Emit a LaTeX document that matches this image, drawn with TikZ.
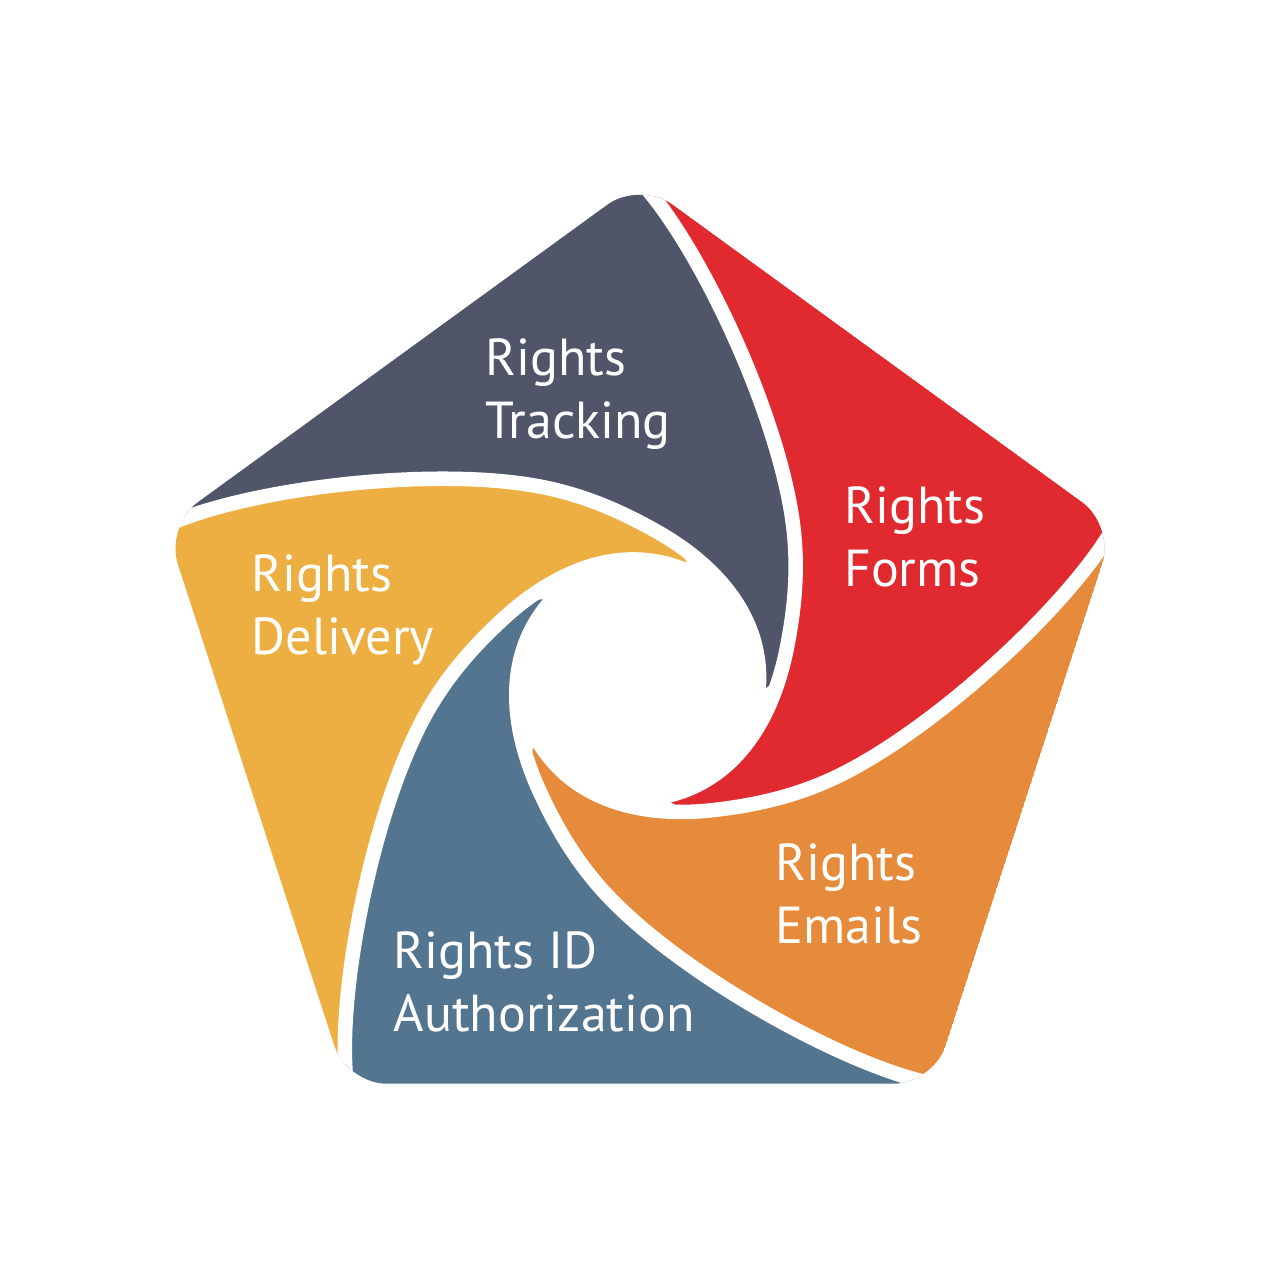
\documentclass[tikz,border=0pt]{standalone}
\usepackage{fontspec}
\setmainfont{PT Sans}
\definecolor{cdark}{RGB}{80,85,105}
\definecolor{cred}{RGB}{224,42,48}
\definecolor{corange}{RGB}{230,139,59}
\definecolor{cyellow}{RGB}{237,175,65}
\definecolor{cblue}{RGB}{84,117,143}
\newcommand\piecepath{(165.4,525.8) -- (640,181)
  .. controls (701.2,246.7) and (783,423.5) .. (794,533)
  .. controls (798,572.8) and (794.5,609.6) .. (786.7,648.8)
  .. controls (782.8,668.4) and (772,688) .. (758.3,692.5)
  .. controls (765.6,622.8) and (721.0,567.5) .. (655.7,530.8)
  .. controls (620.8,511.3) and (586.9,496.6) .. (547.8,488.1)
  .. controls (440.2,464.7) and (246.8,487.9) .. (165.4,525.8) -- cycle}
\newcommand\spiralpath{(640,181)
  .. controls (701.2,246.7) and (783,423.5) .. (794,533)
  .. controls (798,572.8) and (794.5,609.6) .. (786.7,648.8)
  .. controls (772,722.3) and (733.2,781.8) .. (664.7,796.4)}
\tikzset{
  gapline/.style={draw=white,line width=1.45mm},
  lbl/.style={text=white,anchor=base west,inner sep=0pt,font=\fontsize{14.8}{18}\selectfont}
}
\begin{document}
\begin{tikzpicture}[x=0.1mm,y=-0.1mm]
\useasboundingbox (0,0) rectangle (1280,1280);
\fill[white] (0,0) rectangle (1280,1280);
\begin{scope}
  \clip[rounded corners=4mm] (640,181) -- (1114.6,525.8) -- (933.3,1083.7) -- (346.7,1083.7) -- (165.4,525.8) -- cycle;
  \foreach \k/\c in {0/cdark,1/cred,2/corange,3/cblue,4/cyellow}{
    \begin{scope}[rotate around={-72*\k:(640,680)}]
      \fill[\c] \piecepath;
    \end{scope}
  }
  \foreach \k in {0,1,2,3,4}{
    \begin{scope}[rotate around={-72*\k:(640,680)}]
      \draw[gapline] \spiralpath;
    \end{scope}
  }
\end{scope}
\node[lbl] (tracking) at (484.5,375) {\begin{tabular}[t]{@{}l@{}}Rights\\Tracking\end{tabular}};
\node[lbl] (forms) at (843.5,523) {\begin{tabular}[t]{@{}l@{}}Rights\\Forms\end{tabular}};
\node[lbl] (emails) at (775,880) {\begin{tabular}[t]{@{}l@{}}Rights\\Emails\end{tabular}};
\node[lbl] (authorization) at (393,968) {\begin{tabular}[t]{@{}l@{}}Rights ID\\Authorization\end{tabular}};
\node[lbl] (delivery) at (251,591.7) {\begin{tabular}[t]{@{}l@{}}Rights\\Delivery\end{tabular}};
\end{tikzpicture}
\end{document}
